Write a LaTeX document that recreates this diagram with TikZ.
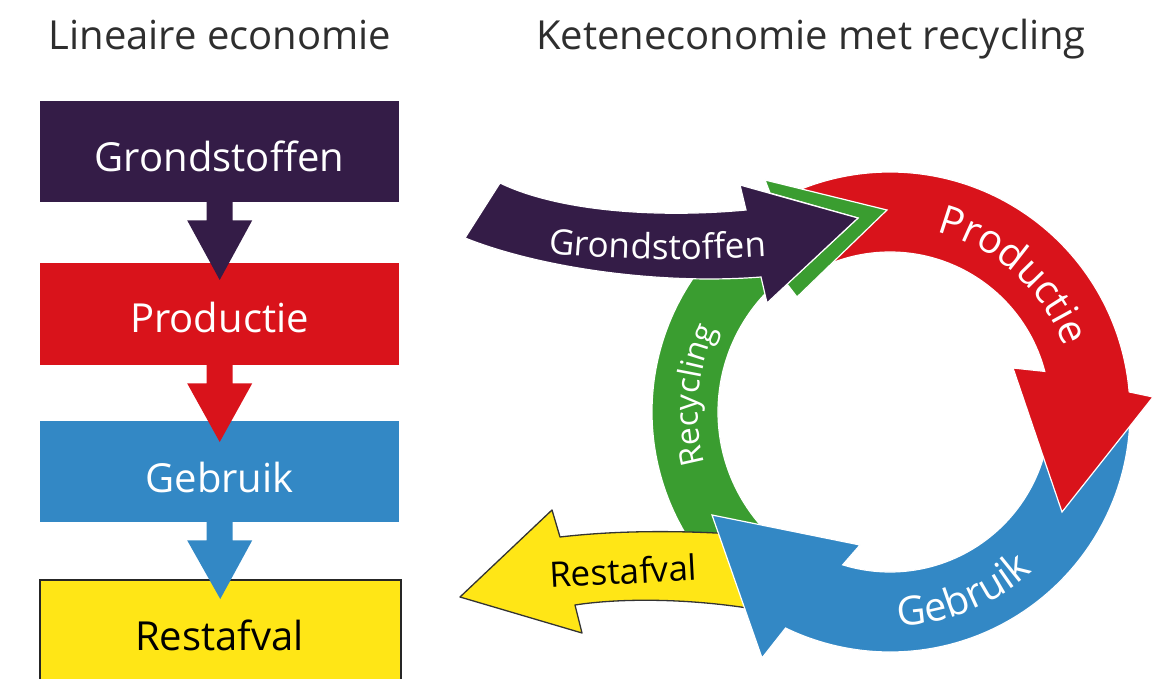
\documentclass[tikz,border=0pt]{standalone}
\usepackage{fontspec}
\setmainfont{Open Sans}
\usetikzlibrary{calc,decorations.text}
\definecolor{cpurple}{HTML}{341C47}
\definecolor{cred}{HTML}{D9131B}
\definecolor{cblue}{HTML}{3388C5}
\definecolor{cyellow}{HTML}{FFE616}
\definecolor{cgreen}{HTML}{3A9D30}
\definecolor{ctitle}{HTML}{2E2E2E}
\newcommand{\fsBig}{\fontsize{40}{48}\selectfont}
\newcommand{\fsMid}{\fontsize{35}{42}\selectfont}
\newcommand{\fsSmall}{\fontsize{32}{38}\selectfont}
\begin{document}
\begin{tikzpicture}[x=1pt,y=1pt,
  box/.style={rectangle, inner sep=0pt, minimum width=359pt, anchor=north west},
  lbl/.style={anchor=base, inner sep=0pt, font=\fsBig},
  band/.style={draw=white, line width=1.2pt, line join=miter},
  curvtext/.style={decorate, decoration={text along path, text align=center, text={#1}}}]
\useasboundingbox (0,0) rectangle (1153,678);

% titles
\node[lbl, text=ctitle] (t1) at (220,628) {Lineaire economie};
\node[lbl, text=ctitle] (t2) at (811,628) {Keteneconomie met recycling};

% left column boxes
\node[box, fill=cpurple, minimum height=101pt] (lg) at (40,577) {};
\node[box, fill=cred, minimum height=102pt] (lp) at (40,415) {};
\node[box, fill=cblue, minimum height=101pt] (lu) at (40,257) {};
\node[box, fill=cyellow, draw=black!85, line width=1.5pt, minimum width=361pt, minimum height=110pt] (lr) at (39,99) {};

% left connectors
\fill[cpurple] ($(lg.south)+(-13,0.5)$) -- ($(lg.south)+(-13,-18)$) -- ($(lg.south)+(-32.5,-18)$) -- ($(lp.north)+(0,-17)$) -- ($(lg.south)+(32.5,-18)$) -- ($(lg.south)+(13,-18)$) -- ($(lg.south)+(13,0.5)$) -- cycle;
\fill[cred] ($(lp.south)+(-13,0.5)$) -- ($(lp.south)+(-13,-18)$) -- ($(lp.south)+(-32.5,-18)$) -- ($(lu.north)+(0,-21)$) -- ($(lp.south)+(32.5,-18)$) -- ($(lp.south)+(13,-18)$) -- ($(lp.south)+(13,0.5)$) -- cycle;
\fill[cblue] ($(lu.south)+(-13,0.5)$) -- ($(lu.south)+(-13,-18)$) -- ($(lu.south)+(-32.5,-18)$) -- ($(lr.north)+(0,-20)$) -- ($(lu.south)+(32.5,-18)$) -- ($(lu.south)+(13,-18)$) -- ($(lu.south)+(13,0.5)$) -- cycle;

% left labels
\node[lbl, text=white] (lgt) at (219.5,506) {Grondstoffen};
\node[lbl, text=white] (lpt) at (219.5,345) {Productie};
\node[lbl, text=white] (lut) at (219.5,186) {Gebruik};
\node[lbl, text=black] (lrt) at (219.5,28) {Restafval};

% ring
\coordinate (C) at (890,266);

% green recycling band
\filldraw[band, fill=cgreen] ($(C)+(225:238)$) arc[start angle=225, end angle=120, radius=238] -- ($(C)+(120:172)$) arc[start angle=120, end angle=225, radius=172] -- cycle;

% yellow restafval arrow
\filldraw[fill=cyellow, draw=black!80, line width=1.3pt, line join=round] (460,81) -- (552,168) -- (560,141) .. controls (620,148) and (690,148) .. (760,142) -- (760,68) .. controls (690,80) and (620,80) .. (575,73) -- (582,45) -- cycle;

% blue gebruik arrow
\filldraw[band, fill=cblue] ($(C)+(0:240)$) arc[start angle=0, end angle=-115.8, radius=240] -- (762,20) -- (712,163) -- (860,133) -- ($(C)+(-107.2:160)$) arc[start angle=-107.2, end angle=0, radius=160] -- cycle;

% red productie arrow
\filldraw[band, fill=cred] ($(C)+(113:240)$) arc[start angle=113, end angle=4.8, radius=240] -- (1153,281) -- (1062,166) -- (1013,310) -- ($(C)+(14.7:160)$) arc[start angle=14.7, end angle=113, radius=160] -- cycle;

% green arrow head rim
\filldraw[band, fill=cgreen] (765,498) -- (887,468) -- (797,381) -- (787,394) -- (858,460) -- (770,485) -- cycle;

% purple grondstoffen arrow
\filldraw[band, fill=cpurple] (500,495) .. controls (560,466) and (660,460) .. (746,468) -- (740,493) -- (858,460) -- (767,375) -- (761,401) .. controls (660,393) and (540,410) .. (465,440) -- cycle;

% curved texts
\path[curvtext={|\fsMid\color{white}|Grondstoffen}] (540,426) .. controls (610,417) and (700,417) .. (775,422);
\path[curvtext={|\fsBig\color{white}|Productie}] ($(C)+(82:186)$) arc[start angle=82, end angle=14, radius=186];
\path[curvtext={|\fsBig\color{white}|Gebruik}] ($(C)+(-100:214)$) arc[start angle=-100, end angle=-36, radius=214];
\path[curvtext={|\fsSmall\color{white}|Recycling}] ($(C)+(205:192)$) arc[start angle=205, end angle=145, radius=192];

\node[anchor=base, inner sep=0pt, font=\fsMid, rotate=3] (yr) at (624,94) {Restafval};
\end{tikzpicture}
\end{document}
